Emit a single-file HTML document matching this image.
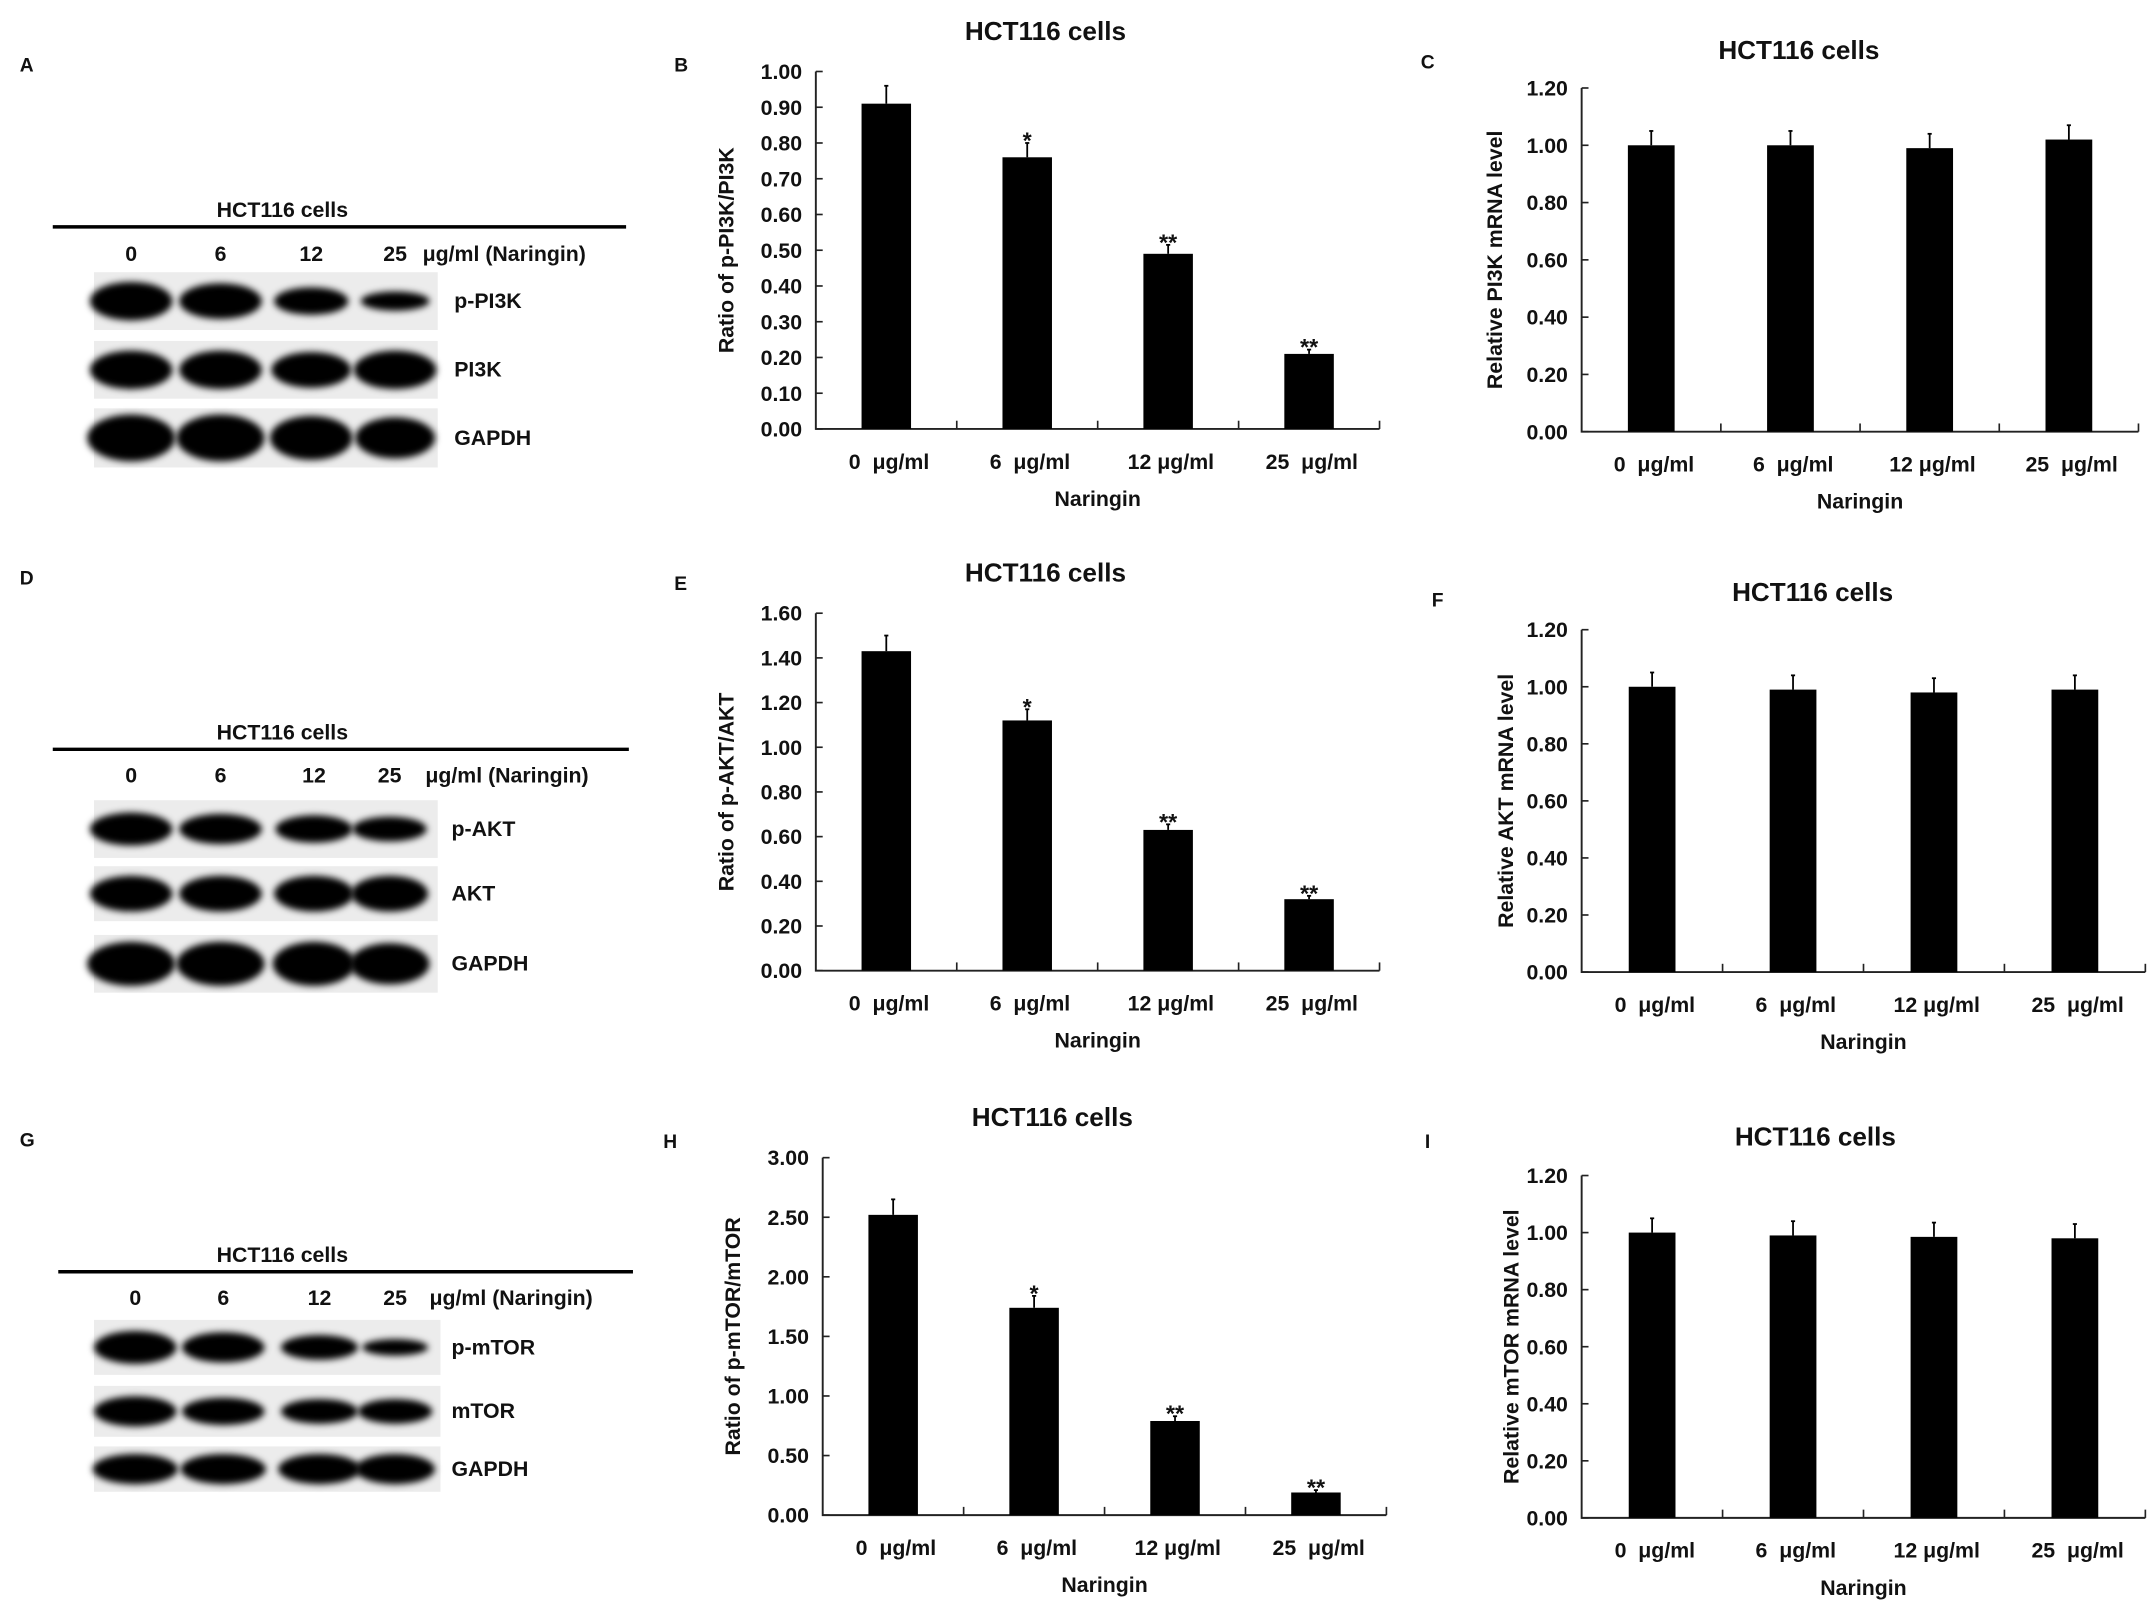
<!DOCTYPE html>
<html><head><meta charset="utf-8"><style>
html,body{margin:0;padding:0;background:#fff;}
svg{display:block;}
text{font-family:"Liberation Sans",Arial,sans-serif;font-weight:bold;fill:#111;white-space:pre;}
</style></head><body>
<svg id="fig" width="2150" height="1610" viewBox="0 0 1563 1171" xmlns="http://www.w3.org/2000/svg">
<defs><filter id="blur" x="-30%" y="-60%" width="160%" height="220%"><feGaussianBlur stdDeviation="2.5"/></filter></defs>
<g id="root"></g>
</svg>
<script>
// ----- Chart data -----
const cats = ["0  μg/ml","6  μg/ml","12 μg/ml","25  μg/ml"];
const bVals = [0.91,0.76,0.49,0.21];
const bErr = [0.05,0.04,0.025,0.012];
const bStars = ["","*","**","**"];
const bTicks = ["0.00","0.10","0.20","0.30","0.40","0.50","0.60","0.70","0.80","0.90","1.00"];
const cVals = [1.00,1.00,0.99,1.02];
const cErr = [0.05,0.05,0.05,0.05];
const cTicks = ["0.00","0.20","0.40","0.60","0.80","1.00","1.20"];
const eVals = [1.43,1.12,0.63,0.32];
const eErr = [0.07,0.05,0.025,0.015];
const eStars = ["","*","**","**"];
const eTicks = ["0.00","0.20","0.40","0.60","0.80","1.00","1.20","1.40","1.60"];
const fVals = [1.00,0.99,0.98,0.99];
const fErr = [0.05,0.05,0.05,0.05];
const fTicks = ["0.00","0.20","0.40","0.60","0.80","1.00","1.20"];
const hVals = [2.52,1.74,0.79,0.19];
const hErr = [0.13,0.10,0.04,0.02];
const hStars = ["","*","**","**"];
const hTicks = ["0.00","0.50","1.00","1.50","2.00","2.50","3.00"];
const iVals = [1.00,0.99,0.985,0.98];
const iErr = [0.05,0.05,0.05,0.05];
const iTicks = ["0.00","0.20","0.40","0.60","0.80","1.00","1.20"];
const noStars = ["","","",""];

const NS="http://www.w3.org/2000/svg";
const root=document.getElementById('root');
function mk(tag,attrs,parent,txt){const e=document.createElementNS(NS,tag);for(const k in attrs)e.setAttribute(k,attrs[k]);if(txt!==undefined)e.textContent=txt;(parent||root).appendChild(e);return e;}

function barChart(id,L,R,Y0,Ytop,ticks,vals,err,stars,title,tx,ty,ytitle,ytx,letter,lx,ly,bw){
  const g=mk('g',{});
  
  
  const tmax=parseFloat(ticks[ticks.length-1]);
  const y=v=>Y0-(v/tmax)*(Y0-Ytop);
  const n=vals.length, gw=(R-L)/n;
  const x=i=>L+gw*(i+0.5);
  let t=mk('text',{x:lx,y:ly,'font-size':14},g,letter);
  
  t=mk('text',{x:tx,y:ty,'font-size':19,'text-anchor':'middle'},g,title);
  
  const ax=mk('path',{d:`M${L},${Ytop} L${L},${Y0} L${R},${Y0}`,stroke:'#222','stroke-width':1.4,fill:'none'},g);
  
  ticks.forEach(tk=>{const yy=y(parseFloat(tk));
    mk('line',{x1:L,x2:L+5,y1:yy,y2:yy,stroke:'#222','stroke-width':1.2},g);
    const tl=mk('text',{x:L-10,y:yy+5.5,'font-size':15.5,'text-anchor':'end'},g,tk);
    });
  for(let i=1;i<=n;i++){const xx=L+gw*i;mk('line',{x1:xx,x2:xx,y1:Y0,y2:Y0-6,stroke:'#222','stroke-width':1.2},g);}
  vals.forEach((v,i)=>{
    const b=mk('rect',{x:x(i)-bw/2,y:y(v),width:bw,height:Y0-y(v),fill:'#000'},g);
    
    const ey=y(v+err[i]);
    const e=mk('line',{x1:x(i),x2:x(i),y1:y(v),y2:ey,stroke:'#000','stroke-width':1.3},g);
    
    mk('line',{x1:x(i)-1.5,x2:x(i)+1.5,y1:ey,y2:ey,stroke:'#000','stroke-width':1.3},g);
    if(stars[i]){const s=mk('text',{x:x(i),y:ey+4,'font-size':17,'text-anchor':'middle'},g,stars[i]);
      }
    const c=mk('text',{x:x(i)+2,y:Y0+29,'font-size':15.5,'text-anchor':'middle'},g,cats[i]);
    
  });
  t=mk('text',{x:(L+R)/2,y:Y0+56,'font-size':15.5,'text-anchor':'middle'},g,'Naringin');
  
  t=mk('text',{x:0,y:0,'font-size':15.5,'text-anchor':'middle',transform:`translate(${ytx},${(Y0+Ytop)/2}) rotate(-90)`},g,ytitle);
  
}
barChart('b',593,1003,312,52,bTicks,bVals,bErr,bStars,'HCT116 cells',760,29,'Ratio of p-PI3K/PI3K',533,'B',490,52,36);
barChart('c',1150,1555,314,64,cTicks,cVals,cErr,noStars,'HCT116 cells',1308,43,'Relative PI3K mRNA level',1092,'C',1033,50,34);
barChart('e',593,1003,706,446,eTicks,eVals,eErr,eStars,'HCT116 cells',760,423,'Ratio of p-AKT/AKT',533,'E',490,429,36);
barChart('f',1150,1560,707,458,fTicks,fVals,fErr,noStars,'HCT116 cells',1318,437,'Relative AKT mRNA level',1100,'F',1041,441,34);
barChart('h',598,1008,1102,842,hTicks,hVals,hErr,hStars,'HCT116 cells',765,819,'Ratio of p-mTOR/mTOR',538,'H',482,835,36);
barChart('i',1150,1560,1104,855,iTicks,iVals,iErr,noStars,'HCT116 cells',1320,833,'Relative mTOR mRNA level',1104,'I',1036,835,34);

// ----- Western blot panels -----
function blot(id,letter,ly,titleY,lineY,lx1,lx2,numY,lanes,unitX,rows,labelX,rx1,rx2){
  const g=mk('g',{});
  
  
  let t=mk('text',{x:14,y:ly,'font-size':14},g,letter);
  
  t=mk('text',{x:205,y:titleY,'font-size':15.5,'text-anchor':'middle'},g,'HCT116 cells');
  
  mk('line',{x1:lx1,x2:lx2,y1:lineY,y2:lineY,stroke:'#000','stroke-width':2.5},g);
  ['0','6','12','25'].forEach((s,i)=>{const d=mk('text',{x:lanes[i],y:numY,'font-size':15.5,'text-anchor':'middle'},g,s);
    });
  t=mk('text',{x:unitX,y:numY,'font-size':15.5},g,'μg/ml (Naringin)');
  
  rows.forEach(r=>{
    const s=mk('rect',{x:rx1,y:r.y1,width:rx2-rx1,height:r.y2-r.y1,fill:'#ececec'},g);
    
    const cy=(r.y1+r.y2)/2;
    r.h.forEach((hh,i)=>{mk('ellipse',{cx:lanes[i],cy:cy,rx:r.w[i],ry:hh,fill:'#000',filter:'url(#blur)'},g);});
    const l=mk('text',{x:labelX,y:cy+5,'font-size':15.5},g,r.name);
    
  });
}
blot('a','A',52,158,165,38,455,190,[95,160,226,287],307,[
 {name:'p-PI3K',y1:198,y2:240,h:[14,13,10,7],w:[30,30,27,25]},
 {name:'PI3K',y1:248,y2:290,h:[14,14,13,14],w:[30,30,29,30]},
 {name:'GAPDH',y1:297,y2:340,h:[17,17,16,15],w:[32,32,30,29]}],330,68,318);
blot('d','D',425,538,545,38,457,569,[95,160,228,283],309,[
 {name:'p-AKT',y1:582,y2:624,h:[12,11,10,9],w:[30,30,28,27]},
 {name:'AKT',y1:630,y2:670,h:[13,13,13,13],w:[30,30,29,28]},
 {name:'GAPDH',y1:680,y2:722,h:[16,16,16,15],w:[32,32,30,29]}],328,68,318);
blot('g','G',834,918,925,42,460,949,[98,162,232,287],312,[
 {name:'p-mTOR',y1:960,y2:1000,h:[12,11,9,6],w:[30,30,28,24]},
 {name:'mTOR',y1:1008,y2:1045,h:[11,10,9,9],w:[30,30,28,27]},
 {name:'GAPDH',y1:1052,y2:1085,h:[11,11,11,11],w:[31,31,30,29]}],328,68,320);
</script>
</body></html>
